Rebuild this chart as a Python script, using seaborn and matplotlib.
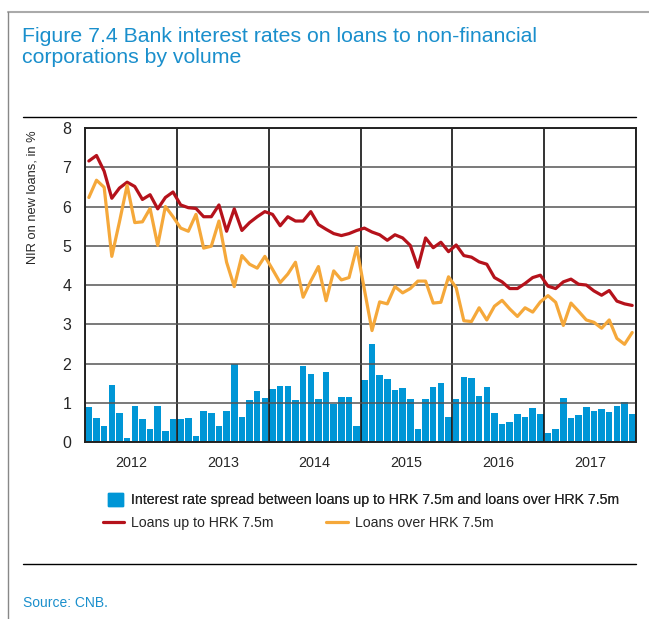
#-----------------------------------------------------------------------------#
'''Modules'''
import numpy as np
import pandas as pd
import matplotlib
matplotlib.use("Agg")
import matplotlib.pyplot as plt
import seaborn as sns
from matplotlib.lines import Line2D
from matplotlib.patches import Patch
#-----------------------------------------------------------------------------#
'''Data (monthly, Jan 2012 - Dec 2017)'''
years = ["2012", "2013", "2014", "2015", "2016", "2017"]

loans_up_to = [7.16, 7.30, 6.90, 6.21, 6.47, 6.62, 6.51, 6.18, 6.30, 5.94, 6.23, 6.37,
               6.04, 5.97, 5.95, 5.74, 5.74, 6.04, 5.37, 5.94, 5.39, 5.59, 5.74, 5.87,
               5.80, 5.51, 5.74, 5.63, 5.63, 5.87, 5.54, 5.42, 5.31, 5.26, 5.31, 5.39,
               5.45, 5.35, 5.28, 5.14, 5.28, 5.20, 5.01, 4.45, 5.20, 4.95, 5.09, 4.85,
               5.02, 4.75, 4.71, 4.59, 4.53, 4.19, 4.08, 3.91, 3.91, 4.04, 4.19, 4.25,
               3.97, 3.91, 4.08, 4.15, 4.02, 4.00, 3.85, 3.74, 3.86, 3.59, 3.52, 3.48]

loans_over = [6.23, 6.67, 6.49, 4.73, 5.61, 6.54, 5.59, 5.61, 5.95, 5.01, 6.00, 5.74,
              5.45, 5.37, 5.80, 4.94, 4.99, 5.63, 4.58, 3.96, 4.75, 4.53, 4.43, 4.73,
              4.40, 4.06, 4.28, 4.58, 3.69, 4.10, 4.47, 3.60, 4.36, 4.13, 4.19, 4.96,
              3.89, 2.84, 3.57, 3.52, 3.96, 3.80, 3.91, 4.10, 4.10, 3.54, 3.56, 4.21,
              3.93, 3.09, 3.07, 3.42, 3.11, 3.46, 3.61, 3.39, 3.20, 3.42, 3.31, 3.57,
              3.73, 3.56, 2.97, 3.54, 3.33, 3.11, 3.05, 2.90, 3.11, 2.64, 2.49, 2.79]

spread = [0.88, 0.60, 0.42, 1.45, 0.73, 0.09, 0.91, 0.58, 0.34, 0.91, 0.27, 0.58,
          0.58, 0.60, 0.16, 0.78, 0.73, 0.40, 0.78, 1.98, 0.65, 1.07, 1.30, 1.12,
          1.35, 1.43, 1.43, 1.07, 1.94, 1.74, 1.09, 1.79, 0.96, 1.14, 1.14, 0.42,
          1.58, 2.49, 1.71, 1.61, 1.32, 1.38, 1.09, 0.34, 1.09, 1.40, 1.51, 0.65,
          1.09, 1.66, 1.63, 1.17, 1.40, 0.73, 0.45, 0.52, 0.71, 0.63, 0.86, 0.71,
          0.24, 0.32, 1.12, 0.60, 0.68, 0.89, 0.78, 0.83, 0.76, 0.91, 1.02, 0.71]

df = pd.DataFrame({"month": np.arange(len(spread)),
                   "up_to": loans_up_to, "over": loans_over, "spread": spread})
#-----------------------------------------------------------------------------#
'''Style'''
BLUE = "#0096d6"
RED = "#b5121b"
ORANGE = "#f5a83a"
TITLE_BLUE = "#1a8fcc"
Font = ["Liberation Sans", "DejaVu Sans"]

sns.set_style("white")
plt.rcParams["font.family"] = Font

fig = plt.figure(figsize=(6.49, 6.19), dpi=100)
ax = fig.add_axes([0.131, 0.2859, 0.849, 0.5073])

sns.barplot(data=df, x="month", y="spread", native_scale=True, width=0.85,
            color=BLUE, saturation=1, linewidth=0, ax=ax, zorder=1)
sns.lineplot(data=df, x="month", y="up_to", color=RED, linewidth=2.3, ax=ax, zorder=4)
sns.lineplot(data=df, x="month", y="over", color=ORANGE, linewidth=2.3, ax=ax, zorder=4)

n = len(spread)
ax.set_xlim(-0.5, n - 0.5)
ax.set_ylim(0, 8)
ax.set_yticks(range(0, 9))
ax.set_xticks(np.arange(-0.5, n, 12))
ax.set_xticks(np.arange(5.5, n, 12), minor=True)
ax.set_xticklabels([], minor=False)
ax.set_xticklabels(years, minor=True)
ax.tick_params(axis="x", which="both", length=0, pad=10, labelsize=10.4)
ax.tick_params(axis="y", length=0, pad=10, labelsize=11.5)
ax.set_xlabel("")
ax.set_ylabel("")

ax.set_axisbelow(False)
ax.grid(axis="y", color="#555555", linewidth=1.1, zorder=2)
ax.grid(axis="x", which="major", color="#111111", linewidth=1.2, zorder=2)
for s in ax.spines.values():
    s.set_color("#222222")
    s.set_linewidth(1.4)
    s.set_zorder(5)

fig.text(33 / 649, 1 - 197 / 619, "NIR on new loans, in %", rotation=90,
         ha="center", va="center", fontsize=9.3)

'''Title, rules, source'''
fig.text(22 / 649, 1 - 27 / 619,
         "Figure 7.4 Bank interest rates on loans to non-financial\ncorporations by volume",
         ha="left", va="top", fontsize=15.3, color=TITLE_BLUE, linespacing=1.12)
fig.add_artist(Line2D([8 / 649, 1], [1 - 12 / 619] * 2, color="#aaaaaa", linewidth=1.5))
fig.add_artist(Line2D([8 / 649] * 2, [0, 1 - 12 / 619], color="#888888", linewidth=1))
fig.add_artist(Line2D([23 / 649, 636 / 649], [1 - 117 / 619] * 2, color="black", linewidth=1))
fig.add_artist(Line2D([23 / 649, 636 / 649], [1 - 564 / 619] * 2, color="black", linewidth=1))
fig.text(23 / 649, 1 - 603 / 619, "Source: CNB.", ha="left", va="center",
         fontsize=10, color=TITLE_BLUE)

'''Legend'''
leg1 = fig.legend(handles=[Patch(color=BLUE)],
                  labels=["Interest rate spread between loans up to HRK 7.5m and loans over HRK 7.5m"],
                  loc="center left", bbox_to_anchor=(108 / 649, 1 - 500 / 619),
                  frameon=False, fontsize=10.2, handlelength=1.05, handleheight=1.05,
                  handletextpad=0.56, borderaxespad=0, borderpad=0)
leg2 = fig.legend(handles=[Line2D([], [], color=RED, linewidth=2.3),
                           Line2D([], [], color=ORANGE, linewidth=2.3)],
                  labels=["Loans up to HRK 7.5m", "Loans over HRK 7.5m"],
                  loc="center left", bbox_to_anchor=(103 / 649, 1 - 523 / 619),
                  ncol=2, frameon=False, fontsize=10.2, handlelength=1.5,
                  handletextpad=0.5, columnspacing=3.7, borderaxespad=0, borderpad=0)
fig.add_artist(leg1)

fig.savefig("out.png", dpi=100)
